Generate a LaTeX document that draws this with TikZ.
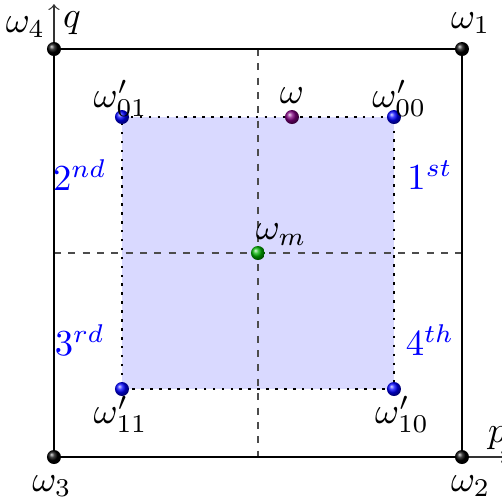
\documentclass[tikz,border=0pt]{standalone}
\usetikzlibrary{shadings}
\begin{document}
\begin{tikzpicture}[x=0.75cm,y=0.75cm,
  ballpt/.style={circle,inner sep=0pt,minimum size=4.4pt,shading=ball,ball color=#1},
  lbl/.style={inner sep=1pt,scale=1.15},
  quad/.style={text=blue,inner sep=1pt,scale=1.15},
  axisline/.style={line width=0.4pt,black!80,->},
  guide/.style={black!70,line width=0.4pt,dash pattern=on 2.2pt off 2.3pt}]
\useasboundingbox (-3.794,-3.691) rectangle (3.588,3.721);
% coordinates
\coordinate (c1) at (3,3);
\coordinate (c2) at (3,-3);
\coordinate (c3) at (-3,-3);
\coordinate (c4) at (-3,3);
\coordinate (qtip) at (-3,3.66);
\coordinate (ptip) at (3.66,-3);
\coordinate (dt) at (0,3);
\coordinate (db) at (0,-3);
\coordinate (dl) at (-3,0);
\coordinate (dr) at (3,0);
% inner filled square
\fill[blue!15] (-2,-2) rectangle (2,2);
% guides
\draw[guide] (dt) -- (db);
\draw[guide] (dl) -- (dr);
% axes
\draw[axisline] (c3) -- (qtip);
\draw[axisline] (c3) -- (ptip);
\node[anchor=west,inner sep=1pt,scale=1.15] (qlab) at (-2.93,3.38) {$q$};
\node[inner sep=1pt,scale=1.15] (plab) at (3.52,-2.73) {$p$};
% outer square
\draw[line width=0.8pt] (c1) -- (c2) -- (c3) -- (c4) -- cycle;
% inner dotted square
\draw[dotted,line width=0.8pt] (-2,2) -- (2,2) -- (2,-2) -- (-2,-2) -- cycle;
% points
\node[ballpt=black] (w1) at (c1) {};
\node[ballpt=black] (w2) at (c2) {};
\node[ballpt=black] (w3) at (c3) {};
\node[ballpt=black] (w4) at (c4) {};
\node[ballpt=blue] (w00) at (2,2) {};
\node[ballpt=blue] (w01) at (-2,2) {};
\node[ballpt=blue] (w11) at (-2,-2) {};
\node[ballpt=blue] (w10) at (2,-2) {};
\node[ballpt=violet] (w) at (0.5,2) {};
\node[ballpt=green!70!black] (wm) at (0,0) {};
% labels
\node[lbl] at (-3.42,3.32) {$\omega_4$};
\node[lbl] at (3.13,3.38) {$\omega_1$};
\node[lbl] at (-3.03,-3.43) {$\omega_3$};
\node[lbl] at (3.13,-3.43) {$\omega_2$};
\node[lbl] at (-2.02,2.27) {$\omega'_{01}$};
\node[lbl] at (2.08,2.27) {$\omega'_{00}$};
\node[lbl] at (0.5,2.32) {$\omega$};
\node[lbl] at (-2.02,-2.37) {$\omega'_{11}$};
\node[lbl] at (2.12,-2.37) {$\omega'_{10}$};
\node[lbl] at (0.34,0.27) {$\omega_m$};
% quadrant labels
\node[quad] at (-2.62,1.15) {$2^{nd}$};
\node[quad] at (2.53,1.15) {$1^{st}$};
\node[quad] at (-2.62,-1.28) {$3^{rd}$};
\node[quad] at (2.53,-1.28) {$4^{th}$};
\end{tikzpicture}
\end{document}
